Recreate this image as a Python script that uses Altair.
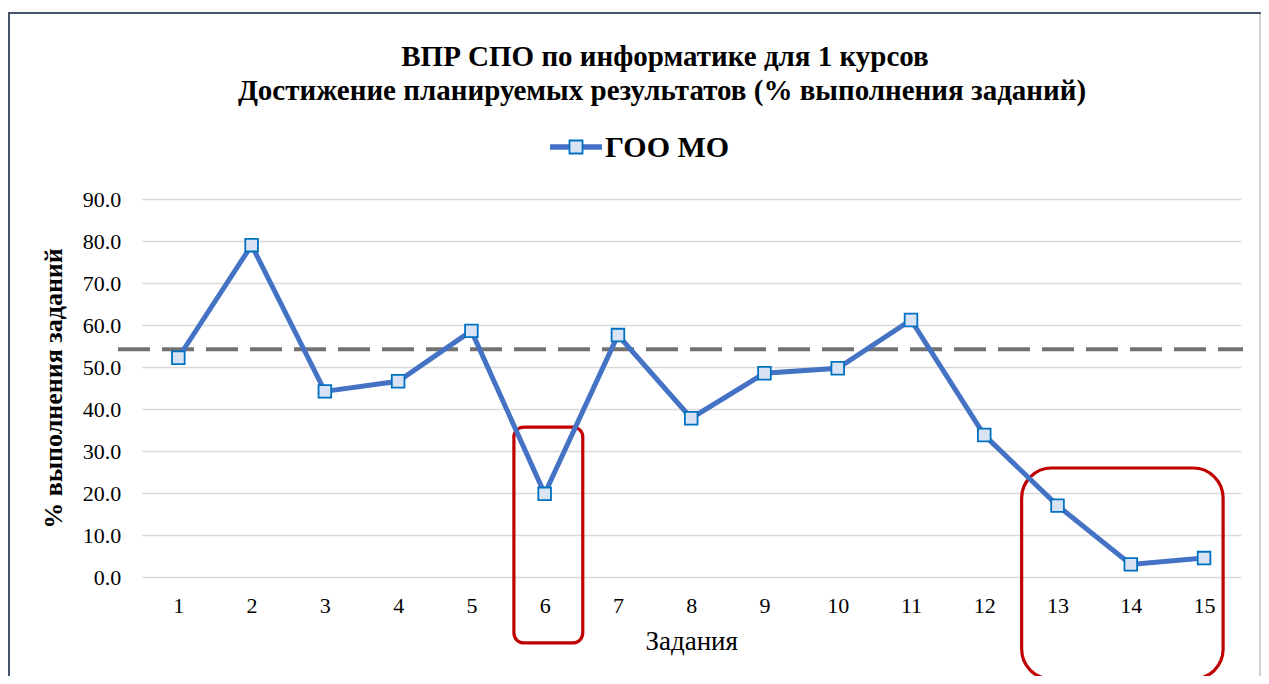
import altair as alt
import pandas as pd

# ---- data ----
tasks = list(range(1, 16))
values = [52.2, 79.0, 44.2, 46.6, 58.6, 19.8, 57.6, 37.8, 48.5, 49.7, 61.2, 33.8, 17.0, 3.0, 4.5]
reference_level = 54.2
series_name = "ГОО МО"
y_ticks = [0, 10, 20, 30, 40, 50, 60, 70, 80, 90]
title_lines = ["ВПР СПО по информатике для 1 курсов",
               "Достижение планируемых результатов (% выполнения заданий)"]
x_title = "Задания"
y_title = "% выполнения заданий"

# highlighted regions (in task / percent units)
box_small = {"x0": [5.58], "x1": [6.52], "y0": [-15.7], "y1": [35.7]}
box_large = {"x0": [12.51], "x1": [15.26], "y0": [-24.3], "y1": [25.95]}

df = pd.DataFrame({"task": tasks, "value": values, "series": series_name})
ref_df = pd.DataFrame({"y": [reference_level]})

SERIF = "Liberation Serif"
TOTAL_W, TOTAL_H = 1253, 668
W, H = 1099, 378
PAD_L, PAD_T = 133.7, 191

def px(page_x):
    return page_x - 8 - PAD_L

def py(page_y):
    return page_y - 8 - PAD_T

x_scale = alt.Scale(domain=[0.5, 15.5], nice=False, zero=False)
y_scale = alt.Scale(domain=[0, 90], nice=False)

x_axis = alt.Axis(values=tasks, format="d", grid=False, domain=False, ticks=False,
                  labelFont=SERIF, labelFontSize=22, labelColor="#000000", labelPadding=18,
                  title=x_title, titleFont=SERIF, titleFontSize=27, titleFontWeight="normal",
                  titleColor="#000000", titlePadding=12)
y_axis = alt.Axis(values=y_ticks, format=".1f", grid=True, gridColor="#D9D9D9", gridWidth=1.5,
                  domain=False, ticks=False,
                  labelFont=SERIF, labelFontSize=22, labelColor="#000000", labelPadding=21,
                  title=y_title, titleFont=SERIF, titleFontSize=26, titleFontWeight="bold",
                  titleColor="#000000", titlePadding=16)

base = alt.Chart(df)

line = base.mark_line(color="#4472C4", strokeWidth=5).encode(
    x=alt.X("task:Q", scale=x_scale, axis=x_axis),
    y=alt.Y("value:Q", scale=y_scale, axis=y_axis),
)
points = base.mark_point(shape="square", size=160, filled=True, fill="#DAE3F3",
                         stroke="#0070C0", strokeWidth=1.8, opacity=1).encode(
    x=alt.X("task:Q", scale=x_scale),
    y=alt.Y("value:Q", scale=y_scale),
)

ref_line = alt.Chart(ref_df).mark_rule(color="#767171", strokeWidth=4, strokeDash=[32, 12]).encode(
    y=alt.Y("y:Q", scale=y_scale),
    x=alt.value(px(118)),
    x2=alt.value(px(1243)),
)

box1 = alt.Chart(pd.DataFrame(box_small)).mark_rect(
    filled=False, stroke="#C00000", strokeWidth=3.2, cornerRadius=10).encode(
    x=alt.X("x0:Q", scale=x_scale), x2="x1:Q",
    y=alt.Y("y0:Q", scale=y_scale), y2="y1:Q",
)
box2 = alt.Chart(pd.DataFrame(box_large)).mark_rect(
    filled=False, stroke="#C00000", strokeWidth=3.2, cornerRadius=30).encode(
    x=alt.X("x0:Q", scale=x_scale), x2="x1:Q",
    y=alt.Y("y0:Q", scale=y_scale), y2="y1:Q",
)

# titles
t1 = alt.Chart(pd.DataFrame({"t": [title_lines[0]]})).mark_text(
    font=SERIF, fontSize=29, fontWeight="bold", color="#000000", align="center",
    baseline="alphabetic").encode(text="t:N", x=alt.value(px(665)), y=alt.value(py(65.5)))
t2 = alt.Chart(pd.DataFrame({"t": [title_lines[1]]})).mark_text(
    font=SERIF, fontSize=29, fontWeight="bold", color="#000000", align="center",
    baseline="alphabetic").encode(text="t:N", x=alt.value(px(662)), y=alt.value(py(99.5)))

# legend (manual)
leg_df = pd.DataFrame({"series": [series_name]})
leg_line = alt.Chart(leg_df).mark_rule(color="#4472C4", strokeWidth=5.5).encode(
    x=alt.value(px(550)), x2=alt.value(px(602)), y=alt.value(py(147)))
leg_pt = alt.Chart(leg_df).mark_point(shape="square", size=170, filled=True, fill="#DAE3F3",
                                      stroke="#0070C0", strokeWidth=1.8, opacity=1).encode(
    x=alt.value(px(576)), y=alt.value(py(147)))
leg_txt = alt.Chart(leg_df).mark_text(font=SERIF, fontSize=30, fontWeight="bold", color="#000000",
                                      align="left", baseline="alphabetic").encode(
    text="series:N", x=alt.value(px(605)), y=alt.value(py(157)))

# outer frame
frame_top = alt.Chart(leg_df).mark_rule(color="#44546A", strokeWidth=2).encode(
    x=alt.value(-PAD_L), x2=alt.value(TOTAL_W - PAD_L), y=alt.value(py(13)))
frame_left = alt.Chart(leg_df).mark_rule(color="#44546A", strokeWidth=2).encode(
    x=alt.value(1 - PAD_L), y=alt.value(py(12)), y2=alt.value(TOTAL_H))
frame_right = alt.Chart(leg_df).mark_rule(color="#BFBFBF", strokeWidth=1.5).encode(
    x=alt.value(TOTAL_W - 1 - PAD_L), y=alt.value(py(14)), y2=alt.value(TOTAL_H))

chart = alt.layer(
    ref_line, box1, box2, line, points, t1, t2, leg_line, leg_pt, leg_txt,
    frame_top, frame_left, frame_right
).properties(
    width=W, height=H,
    autosize=alt.AutoSizeParams(type="none"),
    padding={"left": PAD_L, "top": PAD_T, "right": TOTAL_W - PAD_L - W, "bottom": TOTAL_H - PAD_T - H},
    background="#FFFFFF",
).configure_view(stroke=None)

chart.save("out.html", embed_options={"renderer": "svg", "actions": False})
